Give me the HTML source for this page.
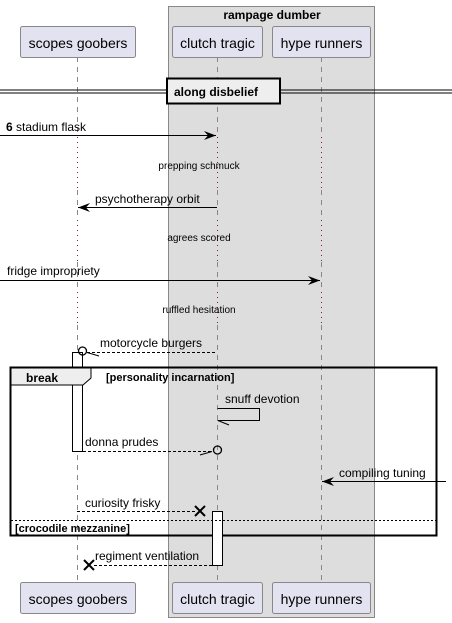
<!DOCTYPE html>
<html><head><meta charset="utf-8"><style>
html,body{margin:0;padding:0;background:#fff}
svg{display:block}
text{font-family:"Liberation Sans",sans-serif}
</style></head><body>
<svg width="452" height="623" viewBox="0 0 452 623" xmlns="http://www.w3.org/2000/svg">
<rect x="168.5" y="6.5" width="206" height="611" fill="#ddd" stroke="#888" stroke-width="1"/>
<text x="272" y="19" font-size="12" font-weight="bold" text-anchor="middle">rampage dumber</text>
<g stroke="#888" stroke-width="1" stroke-dasharray="5,5">
<line x1="77.5" y1="57" x2="77.5" y2="137"/><line x1="77.5" y1="190" x2="77.5" y2="220"/><line x1="77.5" y1="262" x2="77.5" y2="292"/><line x1="77.5" y1="325" x2="77.5" y2="582"/>
<line x1="217.5" y1="57" x2="217.5" y2="137"/><line x1="217.5" y1="190" x2="217.5" y2="220"/><line x1="217.5" y1="262" x2="217.5" y2="292"/><line x1="217.5" y1="325" x2="217.5" y2="582"/>
<line x1="321.5" y1="57" x2="321.5" y2="137"/><line x1="321.5" y1="190" x2="321.5" y2="220"/><line x1="321.5" y1="262" x2="321.5" y2="292"/><line x1="321.5" y1="325" x2="321.5" y2="582"/>
</g>
<g stroke="#8b1a3a" stroke-width="1" stroke-dasharray="1,4">
<line x1="77.5" y1="137" x2="77.5" y2="190"/><line x1="77.5" y1="220" x2="77.5" y2="262"/><line x1="77.5" y1="292" x2="77.5" y2="325"/>
<line x1="217.5" y1="137" x2="217.5" y2="190"/><line x1="217.5" y1="220" x2="217.5" y2="262"/><line x1="217.5" y1="292" x2="217.5" y2="325"/>
<line x1="321.5" y1="137" x2="321.5" y2="190"/><line x1="321.5" y1="220" x2="321.5" y2="262"/><line x1="321.5" y1="292" x2="321.5" y2="325"/>
</g>
<g fill="#e2e2f0" stroke="#888" stroke-width="1">
<rect x="20.5" y="26.5" width="115" height="31" rx="2"/><rect x="172.5" y="26.5" width="90" height="31" rx="2"/><rect x="272.5" y="26.5" width="98" height="31" rx="2"/>
<rect x="20.5" y="582.5" width="115" height="31" rx="2"/><rect x="172.5" y="582.5" width="90" height="31" rx="2"/><rect x="272.5" y="582.5" width="98" height="31" rx="2"/>
</g>
<g font-size="14" text-anchor="middle" fill="#000">
<text x="78" y="48">scopes goobers</text><text x="217.5" y="48">clutch tragic</text><text x="321.5" y="48">hype runners</text>
<text x="78" y="604">scopes goobers</text><text x="217.5" y="604">clutch tragic</text><text x="321.5" y="604">hype runners</text>
</g>
<line x1="0" y1="90" x2="452" y2="90" stroke="#000"/><line x1="0" y1="93" x2="452" y2="93" stroke="#000"/>
<rect x="167" y="78.5" width="113" height="25" fill="#eee" stroke="#000" stroke-width="2"/>
<text x="174" y="96" font-size="12" font-weight="bold">along disbelief</text>
<!-- stadium flask -->
<line x1="0" y1="135.5" x2="216" y2="135.5" stroke="#000"/>
<path d="M204,131 L216,135.5 L204,140 L208,135.5 Z" fill="#000"/>
<text x="6" y="131" font-size="12"><tspan font-weight="bold">6</tspan> stadium flask</text>
<text x="199" y="169" font-size="10" text-anchor="middle">prepping schmuck</text>
<!-- psychotherapy -->
<line x1="78" y1="207.5" x2="217" y2="207.5" stroke="#000"/>
<path d="M90,203 L78,207.5 L90,212 L86,207.5 Z" fill="#000"/>
<text x="95" y="203" font-size="12">psychotherapy orbit</text>
<text x="199" y="241" font-size="10" text-anchor="middle">agrees scored</text>
<line x1="0" y1="280.5" x2="320" y2="280.5" stroke="#000"/>
<path d="M308,276 L320,280.5 L308,285 L312,280.5 Z" fill="#000"/>
<text x="7" y="275" font-size="12">fridge impropriety</text>
<text x="199" y="313" font-size="10" text-anchor="middle">ruffled hesitation</text>
<!-- activation -->
<rect x="72.5" y="352.5" width="10" height="99" fill="#fff" stroke="#000"/>
<!-- motorcycle -->
<line x1="87" y1="352.5" x2="217" y2="352.5" stroke="#000" stroke-dasharray="3,2"/>
<circle cx="82.5" cy="351" r="4" fill="none" stroke="#000" stroke-width="1.3"/>
<line x1="87" y1="352.5" x2="99" y2="356" stroke="#000"/>
<text x="100" y="347" font-size="12">motorcycle burgers</text>
<!-- break frame -->
<rect x="10.5" y="367.5" width="426" height="168" fill="none" stroke="#000" stroke-width="2"/>
<path d="M11,368 L91,368 L91,378 L83,385 L11,385 Z" fill="#eee" stroke="#000"/>
<text x="26" y="382" font-size="12" font-weight="bold">break</text>
<text x="106" y="381" font-size="11" font-weight="bold">[personality incarnation]</text>
<!-- snuff -->
<path d="M217.5,408.5 L259.5,408.5 L259.5,420.5 L217.5,420.5" fill="none" stroke="#000"/>
<line x1="218" y1="420.5" x2="229" y2="425" stroke="#000"/>
<text x="225" y="403" font-size="12">snuff devotion</text>
<!-- donna -->
<line x1="83" y1="451.5" x2="213" y2="451.5" stroke="#000" stroke-dasharray="3,2"/>
<circle cx="217.5" cy="450" r="4" fill="none" stroke="#000" stroke-width="1.3"/>
<line x1="212" y1="451.5" x2="200" y2="455" stroke="#000"/>
<text x="85" y="446" font-size="12">donna prudes</text>
<!-- compiling -->
<line x1="322" y1="481.5" x2="446" y2="481.5" stroke="#000"/>
<path d="M334,477 L322,481.5 L334,486 L330,481.5 Z" fill="#000"/>
<text x="339" y="477" font-size="12">compiling tuning</text>
<!-- curiosity -->
<line x1="77" y1="511.5" x2="196" y2="511.5" stroke="#000" stroke-dasharray="3,2"/>
<path d="M195,506 L205,516 M205,506 L195,516" stroke="#000" stroke-width="2"/>
<text x="85" y="507" font-size="12">curiosity frisky</text>
<rect x="212.5" y="511.5" width="10" height="54" fill="#fff" stroke="#000"/>
<line x1="11" y1="520.5" x2="436" y2="520.5" stroke="#000" stroke-dasharray="2,2"/>
<text x="15" y="532" font-size="11" font-weight="bold">[crocodile mezzanine]</text>
<!-- regiment -->
<line x1="94" y1="565.5" x2="212" y2="565.5" stroke="#000" stroke-dasharray="3,2"/>
<path d="M84,560 L94,570 M94,560 L84,570" stroke="#000" stroke-width="2"/>
<text x="95" y="560" font-size="12">regiment ventilation</text>
</svg>
</body></html>
